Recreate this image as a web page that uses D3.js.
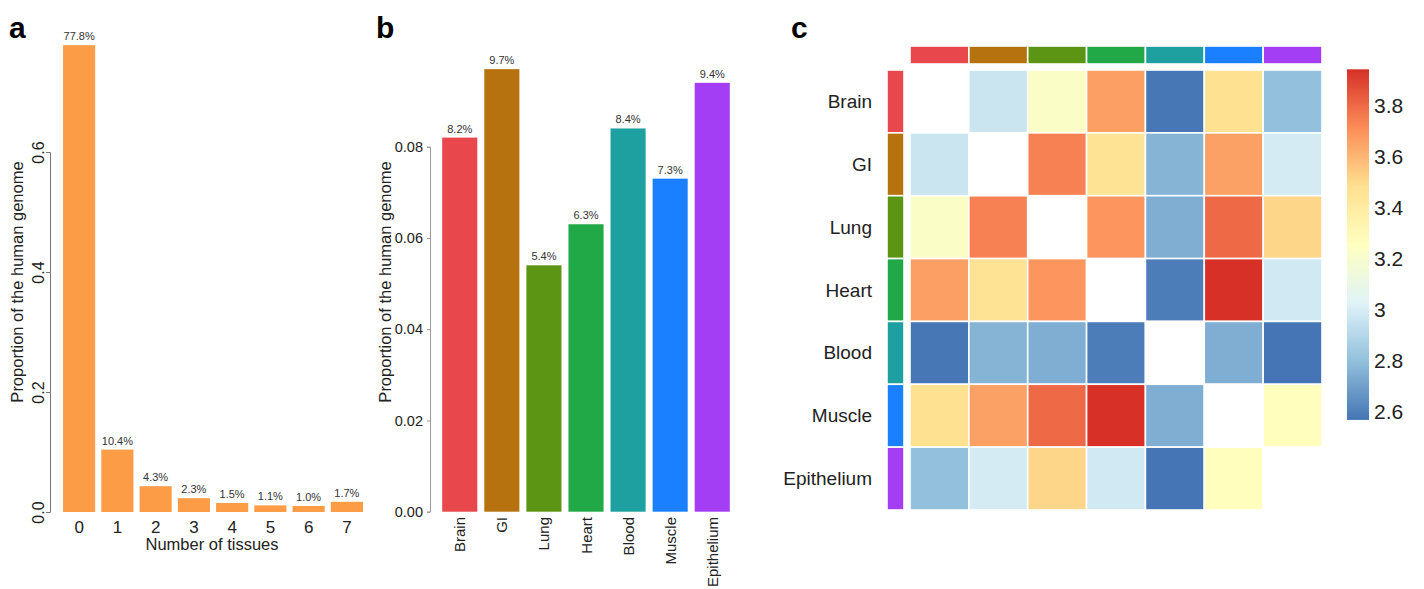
<!DOCTYPE html>
<html><head><meta charset="utf-8">
<script src="https://cdn.jsdelivr.net/npm/d3@7"></script>
<style>body{margin:0;background:#fff}svg{display:block;font-family:"Liberation Sans",Arial,Helvetica,sans-serif}</style>
</head><body><svg id="c" width="1424" height="589"></svg>
<script>
// ---- Panel a data
const tissueCounts = ["0","1","2","3","4","5","6","7"];
const countProportion = [0.778, 0.104, 0.043, 0.023, 0.015, 0.011, 0.010, 0.017];
const countLabels = ["77.8%","10.4%","4.3%","2.3%","1.5%","1.1%","1.0%","1.7%"];
const aTicks = [0.0, 0.2, 0.4, 0.6];
// ---- Panel b data
const tissues = ["Brain","GI","Lung","Heart","Blood","Muscle","Epithelium"];
const tissueProportion = [0.082, 0.097, 0.054, 0.063, 0.084, 0.073, 0.094];
const tissueLabels = ["8.2%","9.7%","5.4%","6.3%","8.4%","7.3%","9.4%"];
const tissueColors = ["#E8474B","#B5720E","#5C9413","#21A847","#1FA0A0","#1A80FF","#A43EF5"];
const bTicks = [0.00, 0.02, 0.04, 0.06, 0.08];
// ---- Panel c data (symmetric, diagonal NA)
const heatRows = [
  [null, 2.96, 3.22, 3.66, 2.57, 3.47, 2.80],
  [2.96, null, 3.74, 3.46, 2.76, 3.655, 2.99],
  [3.22, 3.74, null, 3.69, 2.74, 3.80, 3.51],
  [3.66, 3.46, 3.69, null, 2.59, 3.94, 2.98],
  [2.57, 2.76, 2.74, 2.59, null, 2.74, 2.565],
  [3.47, 3.655, 3.80, 3.94, 2.74, null, 3.26],
  [2.80, 2.99, 3.51, 2.98, 2.565, 3.26, null]
];
const legendTicks = [2.6, 2.8, 3.0, 3.2, 3.4, 3.6, 3.8];
const legendTickLabels = ["2.6","2.8","3","3.2","3.4","3.6","3.8"];
const colorDomain = [2.565, 3.94];
const palette = ["#4575B4","#91BFDB","#E0F3F8","#FFFFBF","#FEE090","#FC8D59","#D73027"];

const svg = d3.select("#c");
const txt = "#222";

// ================= Panel a =================
{
  const x = d3.scaleBand().domain(tissueCounts).range([60, 366]).paddingInner(0.16).paddingOuter(0.08);
  const y = d3.scaleLinear().domain([0, 0.6]).range([512, 152]);
  const g = svg.append("g");
  g.selectAll("rect").data(countProportion).join("rect")
    .attr("x", (d,i)=>x(tissueCounts[i])).attr("width", x.bandwidth())
    .attr("y", d=>y(d)).attr("height", d=>y(0)-y(d)).attr("fill", "#FD9C47");
  g.selectAll("text.lab").data(countProportion).join("text").attr("class","lab")
    .attr("x", (d,i)=>x(tissueCounts[i])+x.bandwidth()/2).attr("y", d=>y(d)-5)
    .attr("text-anchor","middle").attr("font-size",11).attr("fill","#333")
    .text((d,i)=>countLabels[i]);
  const ax = d3.axisLeft(y).tickValues(aTicks).tickFormat(d3.format(".1f")).tickSize(4).tickPadding(4);
  const axg = g.append("g").attr("transform","translate(50,0)").call(ax);
  axg.select(".domain").attr("stroke","#777");
  axg.selectAll(".tick line").attr("stroke","#777");
  axg.selectAll(".tick text").attr("font-size",16).attr("fill",txt)
    .attr("transform", function(d){ return `rotate(-90,${-12},${y(d)-y(d)})`; })
    .attr("x",-12).attr("dy","0").attr("text-anchor","middle").attr("dominant-baseline","central");
  g.selectAll("text.xt").data(tissueCounts).join("text").attr("class","xt")
    .attr("x", d=>x(d)+x.bandwidth()/2).attr("y", 533)
    .attr("text-anchor","middle").attr("font-size",17).attr("fill",txt).text(d=>d);
  g.append("text").attr("x",212).attr("y",550).attr("text-anchor","middle")
    .attr("font-size",16.5).attr("fill",txt).text("Number of tissues");
  g.append("text").attr("transform","translate(17,282) rotate(-90)").attr("text-anchor","middle")
    .attr("dominant-baseline","central").attr("font-size",16.5).attr("fill",txt)
    .text("Proportion of the human genome");
  g.append("text").attr("x",9).attr("y",38).attr("font-size",30).attr("font-weight","bold").text("a");
}

// ================= Panel b =================
{
  const x = d3.scaleBand().domain(tissues).range([438, 734]).paddingInner(0.166).paddingOuter(0.1);
  const y = d3.scaleLinear().domain([0, 0.08]).range([511.7, 146.7]);
  const g = svg.append("g");
  g.selectAll("rect").data(tissueProportion).join("rect")
    .attr("x", (d,i)=>x(tissues[i])).attr("width", x.bandwidth())
    .attr("y", d=>y(d)).attr("height", d=>y(0)-y(d)).attr("fill", (d,i)=>tissueColors[i]);
  g.selectAll("text.lab").data(tissueProportion).join("text").attr("class","lab")
    .attr("x", (d,i)=>x(tissues[i])+x.bandwidth()/2).attr("y", d=>y(d)-5)
    .attr("text-anchor","middle").attr("font-size",11).attr("fill","#333")
    .text((d,i)=>tissueLabels[i]);
  const ax = d3.axisLeft(y).tickValues(bTicks).tickFormat(d3.format(".2f")).tickSize(3).tickPadding(4);
  const axg = g.append("g").attr("transform","translate(430,0)").call(ax);
  axg.select(".domain").attr("stroke","#999");
  axg.selectAll(".tick line").attr("stroke","#999");
  axg.selectAll(".tick text").attr("font-size",14.5).attr("fill",txt).attr("font-family",null);
  g.selectAll("text.xt").data(tissues).join("text").attr("class","xt")
    .attr("transform", d=>`translate(${x(d)+x.bandwidth()/2},517) rotate(-90)`)
    .attr("text-anchor","end").attr("dominant-baseline","central")
    .attr("font-size",15).attr("fill",txt).text(d=>d);
  g.append("text").attr("transform","translate(385,282) rotate(-90)").attr("text-anchor","middle")
    .attr("dominant-baseline","central").attr("font-size",16.5).attr("fill",txt)
    .text("Proportion of the human genome");
  g.append("text").attr("x",376).attr("y",38).attr("font-size",30).attr("font-weight","bold").text("b");
}

// ================= Panel c =================
{
  const g = svg.append("g");
  const x = d3.scaleBand().domain(tissues).range([910, 1322]);
  const y = d3.scaleBand().domain(tissues).range([70, 510]);
  const color = d3.scaleLinear()
    .domain(palette.map((c,i)=>colorDomain[0] + i*(colorDomain[1]-colorDomain[0])/(palette.length-1)))
    .range(palette).interpolate(d3.interpolateRgb).clamp(true);
  const cells = [];
  heatRows.forEach((row,i)=>row.forEach((v,j)=>cells.push({r:tissues[i], c:tissues[j], v})));
  g.selectAll("rect.cell").data(cells).join("rect").attr("class","cell")
    .attr("x", d=>x(d.c)).attr("y", d=>y(d.r)).attr("width", x.bandwidth()).attr("height", y.bandwidth())
    .attr("fill", d=> d.v==null ? "#fff" : color(d.v)).attr("stroke","#fff").attr("stroke-width",1.6);
  // column annotation
  g.selectAll("rect.ca").data(tissues).join("rect").attr("class","ca")
    .attr("x", d=>x(d)).attr("width", x.bandwidth()).attr("y", 46).attr("height", 18)
    .attr("fill", (d,i)=>tissueColors[i]).attr("stroke","#fff").attr("stroke-width",1.6);
  // row annotation
  g.selectAll("rect.ra").data(tissues).join("rect").attr("class","ra")
    .attr("y", d=>y(d)).attr("height", y.bandwidth()).attr("x", 887).attr("width", 17)
    .attr("fill", (d,i)=>tissueColors[i]).attr("stroke","#fff").attr("stroke-width",1.6);
  g.selectAll("text.rl").data(tissues).join("text").attr("class","rl")
    .attr("x", 872).attr("y", d=>y(d)+y.bandwidth()/2).attr("text-anchor","end")
    .attr("dominant-baseline","central").attr("font-size",19).attr("fill",txt).text(d=>d);
  // legend
  const ly = d3.scaleLinear().domain([2.6, 3.8]).range([411, 105]);
  const defs = svg.append("defs");
  const grad = defs.append("linearGradient").attr("id","lg").attr("x1",0).attr("x2",0).attr("y1",1).attr("y2",0);
  palette.forEach((c,i)=>grad.append("stop").attr("offset", i/(palette.length-1)).attr("stop-color", c));
  g.append("rect").attr("x",1347).attr("width",22).attr("y", ly(colorDomain[1])).attr("height", ly(colorDomain[0])-ly(colorDomain[1]))
    .attr("fill","url(#lg)");
  g.selectAll("text.lt").data(legendTicks).join("text").attr("class","lt")
    .attr("x",1374).attr("y", d=>ly(d)).attr("dominant-baseline","central")
    .attr("font-size",21).attr("fill",txt).text((d,i)=>legendTickLabels[i]);
  g.append("text").attr("x",791).attr("y",38).attr("font-size",30).attr("font-weight","bold").text("c");
}
</script></body></html>
